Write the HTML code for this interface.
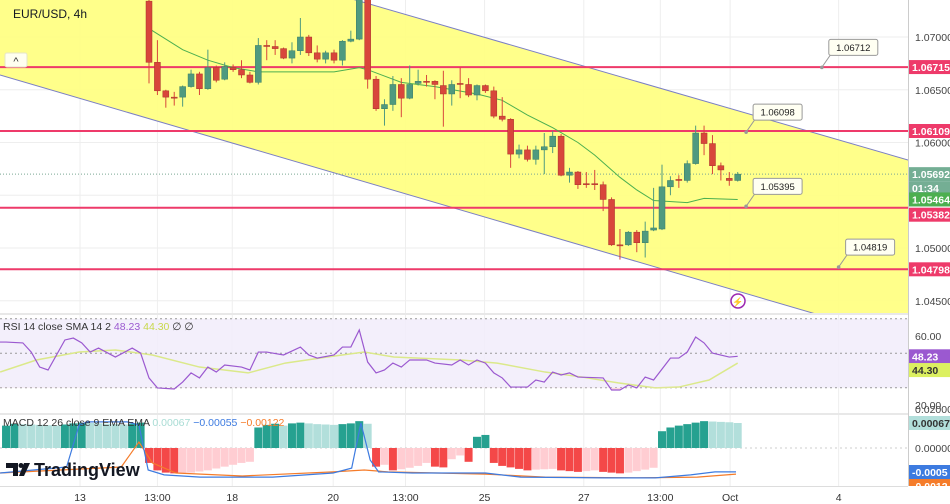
<!DOCTYPE html>
<html><head><meta charset="utf-8">
<style>
html,body{margin:0;padding:0;background:#fff;}
body{width:950px;height:504px;overflow:hidden;font-family:"Liberation Sans",sans-serif;}
svg{display:block;}
</style></head>
<body>
<svg id="chart" width="950" height="504" xmlns="http://www.w3.org/2000/svg" font-family="Liberation Sans, sans-serif"></svg>
<script>
// ---- data ----
const opens=[1.0734,1.0676,1.0649,1.0643,1.0643,1.0653,1.0665,1.0651,1.0671,1.0660,1.0671,1.0669,1.0664,1.0657,1.0692,1.0691,1.0689,1.0680,1.0687,1.0700,1.0685,1.0679,1.0685,1.0678,1.0696,1.0698,1.0737,1.0660,1.0632,1.0636,1.0655,1.0642,1.0656,1.0658,1.0658,1.0654,1.0646,1.0656,1.0655,1.0645,1.0654,1.0649,1.0625,1.0622,1.0589,1.0593,1.0584,1.0593,1.0596,1.0606,1.0569,1.0572,1.0561,1.0561,1.0560,1.0546,1.0503,1.0503,1.0515,1.0505,1.0517,1.0518,1.0558,1.0565,1.0564,1.0580,1.0609,1.0599,1.0578,1.0566,1.0564];
const highs=[1.0745,1.0697,1.0650,1.0648,1.0654,1.0669,1.0667,1.0688,1.0673,1.0676,1.0674,1.0678,1.0667,1.0699,1.0697,1.0697,1.0690,1.0695,1.0718,1.0702,1.0692,1.0687,1.0688,1.0697,1.0706,1.0745,1.0745,1.0663,1.0641,1.0663,1.0661,1.0673,1.0669,1.0664,1.0659,1.0668,1.0659,1.0671,1.0661,1.0655,1.0655,1.0653,1.0643,1.0623,1.0598,1.0597,1.0597,1.0609,1.0611,1.0608,1.0576,1.0573,1.0572,1.0574,1.0563,1.0548,1.0518,1.0516,1.0517,1.0525,1.0557,1.0579,1.0568,1.0569,1.0583,1.0616,1.0616,1.0607,1.0581,1.0572,1.0572];
const lows=[1.0656,1.0645,1.0633,1.0635,1.0634,1.0652,1.0645,1.0650,1.0657,1.0659,1.0667,1.0661,1.0656,1.0655,1.0678,1.0683,1.0679,1.0675,1.0683,1.0682,1.0676,1.0675,1.0675,1.0673,1.0695,1.0697,1.0651,1.0630,1.0616,1.0630,1.0624,1.0641,1.0654,1.0653,1.0641,1.0615,1.0635,1.0642,1.0643,1.0640,1.0647,1.0623,1.0620,1.0576,1.0585,1.0582,1.0579,1.0570,1.0590,1.0568,1.0562,1.0556,1.0557,1.0555,1.0535,1.0502,1.0489,1.0502,1.0496,1.0491,1.0516,1.0517,1.0550,1.0557,1.0562,1.0579,1.0588,1.0570,1.0564,1.0559,1.0563];
const closes=[1.0676,1.0649,1.0643,1.0642,1.0653,1.0665,1.0651,1.0671,1.0659,1.0672,1.0669,1.0664,1.0657,1.0692,1.0691,1.0689,1.0680,1.0687,1.0700,1.0685,1.0679,1.0685,1.0678,1.0696,1.0698,1.0738,1.0660,1.0632,1.0636,1.0655,1.0642,1.0655,1.0658,1.0657,1.0655,1.0646,1.0655,1.0655,1.0645,1.0654,1.0649,1.0625,1.0622,1.0589,1.0593,1.0584,1.0593,1.0596,1.0606,1.0569,1.0572,1.0560,1.0560,1.0560,1.0546,1.0503,1.0502,1.0515,1.0505,1.0516,1.0519,1.0558,1.0564,1.0564,1.0580,1.0609,1.0599,1.0578,1.0574,1.0564,1.0570];
const smaBars=[0,4,7,10,13,22,25,26,30,34,39,42,45,48,51,53,56,58,60,64,66,70];
const smaVals=[1.0708,1.0688,1.0678,1.0671,1.0667,1.0667,1.0671,1.0669,1.0657,1.0653,1.0646,1.0640,1.0626,1.0614,1.0600,1.0588,1.0567,1.0555,1.0545,1.0543,1.0547,1.0546];
const priceTicks=[1.07,1.065,1.06,1.055,1.05,1.045];
const priceTickLabels=["1.07000","1.06500","1.06000","","1.05000","1.04500"];
const levelVals=[1.06715,1.06109,1.05382,1.04798];
const levelLabels=["1.06715","1.06109","1.05382","1.04798"];
const calloutVals=[1.06712,1.06098,1.05395,1.04819];
const calloutBars=[80,71,71,82];
const rsiBars=[-18,-17,-15,-14,-13,-12,-10,-9,-8,-7,-6,-4,-2,-1,0,1,3,4,5,6,7,8,9,11,12,13,14,16,18,19,20,22,23,24,25,26,27,28,29,30,31,33,34,36,37,38,39,40,41,42,43,45,46,47,48,49,50,51,54,55,56,57,58,59,60,62,63,64,65,66,67,69,70];
const rsiVals=[56.5,56.5,56,50.7,42,40.3,57.7,58.8,56,50.7,53,47.8,53,50.1,35.7,29.9,29.3,33.3,38.6,35.7,42,39.1,43.2,42,40.3,50.7,50.7,49,53.6,49,47.2,49,53.6,53.6,63.5,44.9,38.6,40.3,44.3,42,46.1,46.1,44.3,43.2,46.1,43.2,46.1,44.3,38.6,35.7,30.4,30.4,34.5,33.3,39.1,37.4,38.6,36.2,35.7,28.7,28.7,31.6,29.9,36.2,34.5,47.2,47.2,50.7,59.4,56,50.1,47.8,48.23];
const rsiSmaBars=[-17.7,-13.4,-8.3,-4,0.4,6,11.8,16.2,21.2,25.6,29.1,37.1,41.4,47.1,51.5,55.8,60.2,63,66.6,70];
const rsiSmaVals=[39.1,46.1,50.7,51.9,49,42,38.6,44.3,47.8,50.7,47.8,46.1,44.3,39.1,36.2,32.8,29.9,30.4,34.5,44.3];
const histStart=-17;
const histVals=[0.00060,0.00065,0.00064,0.00063,0.00062,0.00061,0.00060,0.00063,0.00066,0.00068,0.00067,0.00066,0.00065,0.00064,0.00063,0.00065,0.00068,
-0.00040,-0.00060,-0.00066,-0.00068,-0.00067,-0.00066,-0.00063,-0.00060,-0.00055,-0.00050,-0.00045,-0.00040,-0.00037,
0.00055,0.00062,0.00065,0.00060,0.00066,0.00068,0.00066,0.00064,0.00063,0.00062,0.00064,0.00066,0.00072,0.00065,
-0.00050,-0.00045,-0.00060,-0.00057,-0.00053,-0.00048,-0.00040,-0.00050,-0.00052,-0.00030,-0.00020,-0.00037,
0.00030,0.00035,
-0.00040,-0.00048,-0.00052,-0.00056,-0.00060,-0.00058,-0.00057,-0.00056,-0.00060,-0.00062,-0.00064,-0.00062,-0.00060,-0.00064,-0.00066,-0.00068,-0.00066,-0.00062,-0.00058,-0.00053,
0.00045,0.00055,0.00060,0.00064,0.00068,0.00072,0.00071,0.00070,0.00069,0.00067];
const macdBars=[-17.7,-9.8,-8.3,-7.3,-2.6,-1.2,-0.1,1.8,6.1,14.7,21.9,24.1,25.2,26.3,27.3,31.3,40,44.2,54.3,60.2,64.4,67.3,69.8];
const macdVals=[-0.00067,-0.00051,0.00062,0.00070,0.00070,0.00062,-0.00059,-0.00072,-0.00078,-0.00078,-0.00067,-0.00054,0.00067,-0.00032,-0.00064,-0.00067,-0.00067,-0.00078,-0.00080,-0.00080,-0.00072,-0.00064,-0.00064];
const sigBars=[-17.7,-3.3,-1.2,0.4,3.2,11.1,21.9,25.6,28.4,40,47.1,57.9,65.2,69.8];
const sigVals=[-0.00067,-0.00051,0.00016,-0.00040,-0.00067,-0.00075,-0.00064,-0.00059,-0.00064,-0.00070,-0.00078,-0.00080,-0.00078,-0.00070];
const timeBars=[-8.2,1,9.9,21.9,30.5,39.9,51.7,60.8,69.1,82];
const timeLabels=["13","13:00","18","20","13:00","25","27","13:00","Oct","4"];

// ---- axes ----
const PW=908;
const xB=i=>149+8.41*i;
const yP=p=>37+(1.07-p)/0.005*52.75;
const yR=v=>336+(60-v)*1.725;
const yM=v=>448-v*37300;
const svg=document.getElementById('chart');
const NS='http://www.w3.org/2000/svg';
function mk(tag,attrs,parent){const e=document.createElementNS(NS,tag);for(const k in attrs)e.setAttribute(k,attrs[k]);(parent||svg).appendChild(e);return e;}
function txt(s,attrs,parent){const e=mk('text',attrs,parent);e.textContent=s;return e;}

mk('defs',{}).innerHTML='<clipPath id="cm"><rect x="0" y="0" width="908" height="313"/></clipPath><clipPath id="cr"><rect x="0" y="315" width="908" height="98"/></clipPath><clipPath id="cmacd"><rect x="0" y="415" width="908" height="71"/></clipPath>';
// grid (behind everything)
timeBars.forEach(b=>{const l=mk('line',{x1:xB(b),x2:xB(b),y1:0,y2:486,stroke:'#eeeeee','stroke-width':1});});
// main pane
const main=mk('g',{});
main.setAttribute('clip-path','url(#cm)');
priceTicks.forEach(p=>{const l=mk('line',{x1:0,x2:PW,y1:yP(p),y2:yP(p),stroke:'#eeeeee'},main);});
// channel
const ch=mk('polygon',{points:`0,-103 908,160 908,341 0,75`,fill:'#ffff80','fill-opacity':0.92},main);

mk('line',{x1:0,y1:-103,x2:908,y2:160,stroke:'#7b7fc4','stroke-width':1},main);
mk('line',{x1:0,y1:75,x2:908,y2:341,stroke:'#7b7fc4','stroke-width':1},main);
// levels
levelVals.forEach((v,i)=>{const l=mk('line',{x1:0,x2:PW,y1:yP(v),y2:yP(v),stroke:'#ee3a6a','stroke-width':2},main);});
// current price dotted
mk('line',{x1:0,x2:PW,y1:yP(closes[closes.length-1]),y2:yP(closes[closes.length-1]),stroke:'#7aa894','stroke-dasharray':'1,2','stroke-width':1},main);
// sma
let d='';smaBars.forEach((b,i)=>{d+=(i?'L':'M')+xB(b)+','+yP(smaVals[i]);});
const sm=mk('path',{d:d,fill:'none',stroke:'#4caf50','stroke-width':1},main);
// candles
opens.forEach((o,i)=>{const c=closes[i];const up=c>=o;const col=up?'#4f9a7f':'#d8463b';const x=xB(i);
 const g=mk('g',{},main);
 mk('line',{x1:x,x2:x,y1:yP(highs[i]),y2:yP(lows[i]),stroke:col,'stroke-width':1},g);
 const t=yP(Math.max(o,c)),b=yP(Math.min(o,c));
 mk('rect',{x:x-3,y:t,width:6,height:Math.max(1,b-t),fill:col,stroke:up?'#3d7d66':'#a8332b','stroke-width':0.5},g);});
// callouts
calloutVals.forEach((v,i)=>{const x=xB(calloutBars[i]),y=yP(v);const g=mk('g',{},main);
 mk('path',{d:`M${x},${y} L${x+9},${y-13} L${x+14},${y-13}`,stroke:'#999',fill:'none'},g);
 mk('rect',{x:x+7,y:y-28,width:49,height:16,rx:2,fill:'#fffff2',stroke:'#999'},g);
 txt(v.toFixed(5),{x:x+31.5,y:y-16.5,'font-size':9.5,'text-anchor':'middle',fill:'#222'},g);
 mk('circle',{cx:x,cy:y,r:1.8,fill:'#999'},g);});
// lightning icon
const li=mk('g',{});
mk('circle',{cx:738,cy:301,r:7,fill:'#fff','stroke':'#9c27b0','stroke-width':1.5},li);
txt('⚡',{x:738,y:305,'font-size':9,'text-anchor':'middle',fill:'#9c27b0'},li);
// title
const ti=txt('EUR/USD, 4h',{x:13,y:18,'font-size':12,fill:'#131722'});
const cb=mk('g',{});
mk('rect',{x:5,y:53,width:22,height:14,rx:2,fill:'#fffff0',stroke:'#e6e6c8'},cb);
txt('^',{x:16,y:65,'font-size':11,'text-anchor':'middle',fill:'#333'},cb);

// pane separators
mk('rect',{x:0,y:313,width:950,height:2,fill:'#e8e8e8'});
mk('rect',{x:0,y:413,width:950,height:2,fill:'#e8e8e8'});

// RSI pane
const rp=mk('g',{'clip-path':'url(#cr)'});
mk('rect',{x:0,y:yR(70),width:PW,height:yR(30)-yR(70),fill:'#f1ecfa','fill-opacity':0.85},rp);
[70,50,30].forEach(v=>mk('line',{x1:0,x2:PW,y1:yR(v),y2:yR(v),stroke:'#999','stroke-dasharray':'2,3'},rp));
d='';rsiSmaBars.forEach((b,i)=>{d+=(i?'L':'M')+xB(b)+','+yR(rsiSmaVals[i]);});
const rs=mk('path',{d:d,fill:'none',stroke:'#dbe98a','stroke-width':1.5},rp);
d='';rsiBars.forEach((b,i)=>{d+=(i?'L':'M')+xB(b)+','+yR(rsiVals[i]);});
const fillD=d+`L${xB(rsiBars[rsiBars.length-1])},${yR(30)}L${xB(rsiBars[0])},${yR(30)}Z`;
mk('clipPath',{id:'os'},rp).innerHTML=`<rect x="0" y="${yR(30)}" width="908" height="40"/>`;
mk('path',{d:fillD,fill:'#fbd7dc','clip-path':'url(#os)'},rp);
const rl=mk('path',{d:d,fill:'none',stroke:'#9b59d0','stroke-width':1.2},rp);
const rlg=mk('g',{});
const rt=txt('',{x:3,y:330,'font-size':10.5,fill:'#333'},rlg);
rt.innerHTML='RSI 14 close SMA 14 2 <tspan fill="#9b59d0">48.23</tspan> <tspan fill="#c8d84a">44.30</tspan> ∅ ∅';

// MACD pane
const mp=mk('g',{'clip-path':'url(#cmacd)'});
mk('line',{x1:0,x2:PW,y1:yM(0),y2:yM(0),stroke:'#ccc','stroke-dasharray':'2,3'},mp);
histVals.forEach((v,k)=>{const i=histStart+k;const prev=k?histVals[k-1]:0;let col;
 if(v>=0)col=(v>=prev)?'#26a190':'#b2dfdb';else col=(v<=prev)?'#f44848':'#ffcdd2';
 const r=mk('rect',{x:xB(i)-4,y:Math.min(yM(v),yM(0)),width:8,height:Math.abs(yM(v)-yM(0)),fill:col},mp);
 });
d='';sigBars.forEach((b,i)=>{d+=(i?'L':'M')+xB(b)+','+yM(sigVals[i]);});
const sl=mk('path',{d:d,fill:'none',stroke:'#f57c2a','stroke-width':1.2},mp);
d='';macdBars.forEach((b,i)=>{d+=(i?'L':'M')+xB(b)+','+yM(macdVals[i]);});
const ml=mk('path',{d:d,fill:'none',stroke:'#3d7be0','stroke-width':1.2},mp);
const mlg=mk('g',{});
const mt=txt('',{x:3,y:426,'font-size':10.5,fill:'#333'},mlg);
mt.innerHTML='MACD 12 26 close 9 EMA EMA <tspan fill="#a8dcd4">0.00067</tspan> <tspan fill="#3d7be0">−0.00055</tspan> <tspan fill="#f57c2a">−0.00122</tspan>';
// TV logo
const tv=mk('g',{});
mk('path',{d:'M6,463 h12 v13 h-5 v-8 h-7z',fill:'#131722'},tv);
mk('circle',{cx:21,cy:465.5,r:2.5,fill:'#131722'},tv);
mk('path',{d:'M24,463 h6 l-6,13 h-5z',fill:'#131722'},tv);
txt('TradingView',{x:34,y:476,'font-size':18,'font-weight':'bold',fill:'#131722'},tv);

// time axis
mk('rect',{x:0,y:486,width:950,height:18,fill:'#fff'});
mk('line',{x1:0,x2:908,y1:486.5,y2:486.5,stroke:'#ddd'});
timeBars.forEach((b,i)=>{const t=txt(timeLabels[i],{x:xB(b),y:501,'font-size':10.5,'text-anchor':'middle',fill:'#333'});});

// price axis
const ax=mk('g',{});
mk('rect',{x:908,y:0,width:42,height:504,fill:'#fff'},ax);
mk('line',{x1:908.5,x2:908.5,y1:0,y2:504,stroke:'#ccc'},ax);
priceTicks.forEach((p,i)=>{if(priceTickLabels[i])txt(priceTickLabels[i],{x:915,y:yP(p)+4,'font-size':10.5,fill:'#444'},ax);});
function tag(label,y,fill,col,h){const g=mk('g',{},ax);
 mk('rect',{x:909,y:y-(h||14)/2,width:41,height:h||14,fill:fill},g);txt(label,{x:912,y:y+4,'font-size':10.5,'font-weight':'bold',fill:col},g);}
levelVals.forEach((v,i)=>tag(levelLabels[i],yP(v)+(i==2?7:0),'#ee3a6a','#fff'));
const last=closes[closes.length-1];
tag('1.05692',yP(last),'#74ae94','#fff');
tag('01:34',yP(last)+14,'#74ae94','#fff');
tag('1.05464',yP(smaVals[smaVals.length-1]),'#4caf50','#fff');
// RSI axis
txt('60.00',{x:915,y:yR(60)+4,'font-size':10.5,fill:'#444'},ax);
txt('20.00',{x:915,y:yR(20)+4,'font-size':10.5,fill:'#444'},ax);
tag('48.23',yR(48.23),'#9b59d0','#fff');
tag('44.30',yR(44.30)+7,'#dcf060','#333');
// MACD axis
txt('0.02000',{x:915,y:413,'font-size':10.5,fill:'#444'},ax);
txt('0.00000',{x:915,y:yM(0)+4,'font-size':10.5,fill:'#444'},ax);
tag('0.00067',yM(0.00067),'#b2dfdb','#333');
tag('-0.0005',472,'#3d7be0','#fff');
tag('-0.0012',486,'#f57c2a','#fff');
mk('rect',{x:908,y:486,width:42,height:18,fill:'#fff'},ax);
</script>
</body></html>
